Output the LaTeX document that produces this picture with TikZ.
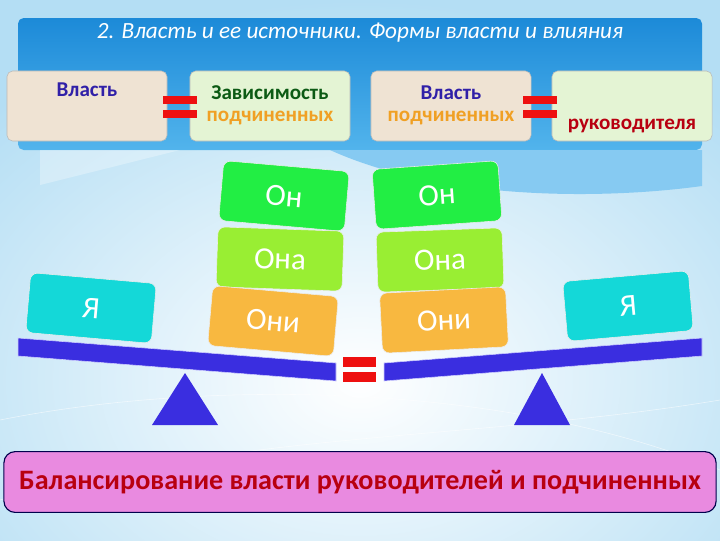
\documentclass[tikz,border=0pt]{standalone}
\usepackage{fontspec}
\setmainfont{Carlito}
\usepackage{xcolor}
\usetikzlibrary{calc, positioning, backgrounds}

\definecolor{bgblue}{HTML}{B4DEF4}
\definecolor{bannertop}{HTML}{1C8AD8}
\definecolor{bannerbot}{HTML}{52B4EC}
\definecolor{beige}{HTML}{EFE3D3}
\definecolor{palegreen}{HTML}{E4F4D4}
\definecolor{txtblue}{HTML}{3020A8}
\definecolor{txtgreen}{HTML}{0C5A14}
\definecolor{txtorange}{HTML}{F0A024}
\definecolor{txtred}{HTML}{B80010}
\definecolor{eqred}{HTML}{EE1010}
\definecolor{ongreen}{HTML}{22EE44}
\definecolor{onagreen}{HTML}{99EE33}
\definecolor{oniorange}{HTML}{F8B840}
\definecolor{yacyan}{HTML}{14D8D8}
\definecolor{beamblue}{HTML}{3A2EE0}
\definecolor{pinkbox}{HTML}{E98AE0}

\begin{document}
\begin{tikzpicture}[x=0.025cm,y=-0.025cm,
                    topbox/.style={draw=gray!55,rounded corners=4,minimum width=4cm,minimum height=1.75cm},
                    toptext/.style={inner sep=0.5pt,font=\bfseries\fontsize{15}{18}\selectfont},
                    block/.style={draw=white!85!gray,rounded corners=5,minimum width=3.15cm,minimum height=1.5cm,
                                  text=white,font=\fontsize{22}{26}\selectfont},
                    eqbar/.style={fill=eqred},
                    beam/.style={fill=beamblue,draw=white!80!blue,thin}]

  \useasboundingbox (0,0) rectangle (720,540);
  \fill[bgblue] (0,0) rectangle (720,540);
  \begin{scope}
    \clip (0,0) rectangle (720,540);
    \shade[inner color=white,outer color=bgblue] (-160,0) rectangle (880,760);
    \draw[white,opacity=0.6] (0,420) .. controls (200,380) and (500,380) .. (720,470);
    \draw[white,opacity=0.6] (0,500) .. controls (250,430) and (480,440) .. (720,400);
  \end{scope}

  % banner
  \shade[top color=bannertop,bottom color=bannerbot,rounded corners=4] (18,18) rectangle (702,150);
  \fill[bannerbot!70!white] (330,150) .. controls (440,200) and (600,200) .. (702,186) -- (702,150) -- cycle;
  \fill[white,opacity=0.3] (40,150) -- (180,150) -- (40,185) -- cycle;
  \node[text=white,font=\itshape\fontsize{16.5}{20}\selectfont] (title) at (360,33)
    {2. Власть и ее источники. Формы власти и влияния};

  % top row
  \node[topbox,fill=beige] (power) at (87,106) {};
  \node[topbox,fill=palegreen] (dep) at (270,106) {};
  \node[topbox,fill=beige] (powsub) at (451,106) {};
  \node[topbox,fill=palegreen] (lead) at (632,106) {};

  \node[toptext,text=txtblue] (powerlbl) at (87,90) {Власть};
  \node[toptext,text=txtgreen] (deplbl) at (270,93) {Зависимость};
  \node[toptext,text=txtorange] (depsub) at (270,118) {подчиненных};
  \node[toptext,text=txtblue] (powsublbl) at (451,93) {Власть};
  \node[toptext,text=txtorange] (powsubsub) at (451,118) {подчиненных};
  \node[toptext,text=txtred] (leadlbl) at (632,126) {руководителя};

  \fill[eqbar] (163,96) rectangle (197,104);
  \fill[eqbar] (163,110) rectangle (197,118);
  \fill[eqbar] (523,96) rectangle (557,104);
  \fill[eqbar] (523,110) rectangle (557,118);

  % blocks
  \node[block,fill=ongreen,rotate=-5] (on1) at (284,196) {Он};
  \node[block,fill=onagreen,rotate=-2] (ona1) at (280,259) {Она};
  \node[block,fill=oniorange,rotate=-5] (oni1) at (273,321) {Они};
  \node[block,fill=ongreen,rotate=4] (on2) at (437,195) {Он};
  \node[block,fill=onagreen,rotate=2] (ona2) at (440,260) {Она};
  \node[block,fill=oniorange,rotate=3] (oni2) at (444,320) {Они};
  \node[block,fill=yacyan,rotate=-5] (ya1) at (91,308) {Я};
  \node[block,fill=yacyan,rotate=5] (ya2) at (628,306) {Я};

  % scales
  \fill[beam] (18,338) -- (336,363) -- (336,381) -- (18,356) -- cycle;
  \fill[beam] (384,363) -- (702,338) -- (702,356) -- (384,381) -- cycle;
  \fill[eqbar] (343,357) rectangle (376,367);
  \fill[eqbar] (343,372) rectangle (376,382);
  \fill[beamblue] (185,373) -- (218,425) -- (152,425) -- cycle;
  \fill[beamblue] (542,373) -- (570,425) -- (514,425) -- cycle;

  % bottom
  \node[draw=black!70!blue,thick,fill=pinkbox,rounded corners=8,minimum width=17.8cm,minimum height=1.52cm,
        text=txtred,font=\bfseries\fontsize{20}{24}\selectfont] (balance) at (360,482)
    {Балансирование власти руководителей и подчиненных};

\end{tikzpicture}
\end{document}
